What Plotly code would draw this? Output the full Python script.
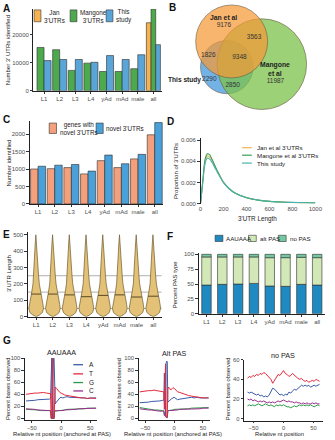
import numpy as np
import plotly.graph_objects as go

W, H = 335, 440
FONT = "Liberation Sans, Arial, Helvetica, sans-serif"
INK = "#222222"
TICK_INK = "#4d4d4d"

categories = ["L1", "L2", "L3", "L4", "yAd", "mAd", "male", "all"]

# A: number of 3'UTRs identified per stage
jan_utrs = [None, None, None, None, None, None, None, 24350]
mangone_utrs = [15500, 14700, 7300, 9900, 6900, 6900, 7900, 29300]
this_study_utrs = [10800, 11200, 11200, 10200, 12600, 11200, 12900, 16500]

# B: overlap between the three 3'UTR sets
venn_regions = ["Jan only", "Jan & Mangone", "Jan & this study", "all three",
                "Mangone only", "this study only", "this study & Mangone"]
venn_counts = [9176, 3563, 1826, 9348, 11987, 2290, 2850]

# C: novel 3'UTRs
genes_with_novel = [1000, 1010, 1040, 860, 1240, 1040, 1290, 1980]
novel_utrs = [1080, 1110, 1130, 940, 1400, 1150, 1420, 2330]

# D: 3'UTR length distributions
utr_length_grid = [0, 20, 40, 60, 80, 100, 125, 150, 200, 250, 300, 400, 500, 600, 700, 800, 900, 1000]
jan_density = [0, 0.0021, 0.0040, 0.0045, 0.0044, 0.0041, 0.0035, 0.0030, 0.0020, 0.0014, 0.0010,
               0.00056, 0.00033, 0.00021, 0.00015, 0.0001, 0.00008, 0.00006]
mangone_density = [0, 0.0022, 0.0042, 0.0047, 0.0046, 0.0042, 0.0036, 0.0030, 0.0020, 0.0014, 0.0010,
                   0.00055, 0.00032, 0.0002, 0.00014, 0.0001, 0.00007, 0.00005]
this_study_density = [0, 0.0020, 0.0038, 0.0043, 0.0042, 0.0039, 0.0034, 0.0029, 0.0020, 0.0014, 0.0010,
                      0.00057, 0.00034, 0.00022, 0.00015, 0.00011, 0.00008, 0.00006]

# E: violin profile of 3'UTR length (relative width) and medians per stage
violin_length = [0, 10, 25, 50, 75, 100, 125, 150, 200, 250, 300, 350, 400, 450, 500]
violin_width = [0.0, 0.45, 0.85, 1.0, 0.93, 0.82, 0.7, 0.6, 0.43, 0.33, 0.26, 0.21, 0.17, 0.12, 0.04]
median_length = [138, 138, 133, 122, 130, 133, 120, 125]
guide_lengths = [50, 150, 250]

# F: PAS type composition (percent)
aauaaa_pct = [48.3, 49.4, 50.0, 51.0, 46.7, 46.1, 49.4, 48.3]
alt_pas_pct = [47.3, 46.2, 45.6, 44.6, 47.7, 48.3, 45.6, 46.1]
no_pas_pct = [4.4, 4.4, 4.4, 4.4, 5.6, 5.6, 5.0, 5.6]

# G: base composition around the PAS
pas_pos = [-60, -55, -50, -45, -40, -35, -30, -25, -20, -18, -17, -16, -15, -14, -13, -12,
           -11, -10, -8, -6, -4, -2, 0, 3, 6, 10, 15, 20, 25, 30, 35, 40, 45, 50, 55, 60]
aauaaa_A = [29, 29, 30, 30, 31, 31, 31, 32, 32, 33, 100, 100, 0, 100, 100, 100,
            26, 24, 27, 30, 32, 34, 35, 34, 35, 36, 35, 35, 34, 34, 34, 34, 33, 34, 34, 34]
aauaaa_T = [40, 41, 41, 42, 42, 43, 43, 42, 42, 41, 0, 0, 100, 0, 0, 0,
            46, 52, 50, 47, 45, 43, 42, 40, 39, 38, 37, 36, 35, 35, 34, 34, 33, 34, 33, 33]
aauaaa_G = [15, 15, 14, 14, 14, 13, 13, 13, 13, 13, 0, 0, 0, 0, 0, 0,
            13, 12, 12, 13, 13, 13, 13, 14, 14, 15, 15, 15, 16, 16, 16, 16, 17, 17, 17, 17]
aauaaa_C = [16, 16, 15, 15, 14, 14, 13, 13, 13, 12, 0, 0, 0, 0, 0, 0,
            12, 13, 13, 13, 12, 13, 13, 13, 14, 14, 15, 15, 15, 16, 16, 16, 16, 17, 17, 17]

altpas_A = [26, 26, 27, 27, 28, 28, 29, 29, 30, 30, 75, 45, 5, 92, 95, 94,
            27, 28, 29, 31, 33, 34, 35, 33, 31, 32, 33, 34, 34, 35, 34, 35, 34, 34, 34, 34]
altpas_T = [44, 45, 45, 46, 46, 47, 46, 45, 45, 44, 15, 40, 90, 4, 3, 3,
            48, 52, 50, 47, 49, 51, 50, 46, 44, 43, 41, 40, 38, 37, 36, 35, 35, 34, 34, 34]
altpas_G = [18, 17, 16, 15, 15, 14, 14, 13, 13, 13, 5, 10, 2, 2, 1, 2,
            13, 13, 13, 14, 14, 14, 15, 15, 15, 15, 16, 16, 16, 17, 17, 17, 17, 18, 18, 18]
altpas_C = [16, 15, 15, 14, 14, 13, 13, 12, 12, 12, 5, 5, 3, 2, 1, 1,
            12, 13, 13, 13, 13, 14, 14, 14, 14, 15, 15, 15, 16, 16, 16, 16, 16, 17, 17, 17]

nopas_pos = list(range(-60, 61, 3))
nopas_T = [41, 43, 42, 44, 43, 45, 44, 46, 45, 47, 46, 44, 42, 40, 36, 39, 43, 45, 44, 47,
           49, 46, 45, 43, 44, 46, 44, 42, 41, 40, 41, 39, 38, 39, 37, 38, 39, 38, 40, 39, 38]
nopas_A = [27, 26, 27, 26, 25, 24, 25, 23, 24, 22, 23, 22, 24, 27, 31, 30, 28, 26, 24, 25,
           23, 25, 24, 27, 26, 28, 30, 29, 31, 33, 34, 33, 34, 33, 34, 32, 33, 34, 33, 34, 35]
nopas_C = [20, 19, 20, 18, 19, 18, 17, 18, 17, 18, 17, 16, 17, 16, 17, 16, 17, 18, 17, 18,
           19, 18, 17, 18, 17, 17, 16, 17, 16, 16, 15, 16, 15, 16, 15, 15, 16, 15, 16, 15, 15]
nopas_G = [13, 14, 13, 14, 13, 14, 15, 14, 13, 14, 15, 14, 13, 14, 13, 12, 14, 13, 14, 13,
           14, 13, 12, 12, 11, 12, 13, 12, 13, 14, 13, 14, 13, 14, 13, 14, 13, 12, 13, 14, 13]

ORANGE = "#f5b24f"
GREEN = "#4caa4c"
BLUE = "#5aa5d8"
SALMON = "#f4a07c"
C_BLUE = "#4aa0d9"
D_COLORS = {"jan": "#f2b455", "mangone": "#3a9f58", "this": "#45b3ad"}
VIOLIN_FILL = "#e3c277"
VIOLIN_LINE = "#6e5a2c"
F_COLORS = ["#1f89c1", "#d2e9b7", "#76c8a3"]
BASE_COLORS = {"A": "#3a5ca8", "T": "#e3293c", "G": "#2b9a48", "C": "#9c2f8d"}


def px_x(x):
    return x / W


def px_y(y):
    return 1 - y / H


def dom_x(x0, x1):
    return [x0 / W, x1 / W]


def dom_y(top, bottom):
    return [1 - bottom / H, 1 - top / H]


def axis(**kw):
    d = dict(showline=True, linecolor=INK, linewidth=0.8, ticks="outside", ticklen=2.5,
             tickwidth=0.7, tickcolor="#333333", showgrid=False, zeroline=False,
             tickfont=dict(family=FONT, size=6, color=TICK_INK), fixedrange=True)
    d.update(kw)
    return d


def note(text, x, y, size=6.5, color=INK, xanchor="center", yanchor="middle", angle=0,
         xref="paper", yref="paper"):
    if xref == "paper":
        x = px_x(x)
    if yref == "paper":
        y = px_y(y)
    return dict(text=text, x=x, y=y, xref=xref, yref=yref, showarrow=False,
                font=dict(family=FONT, size=size, color=color), xanchor=xanchor,
                yanchor=yanchor, textangle=angle, borderpad=0)


def rect_px(x0, y0, x1, y1, fill, line="#333333"):
    return dict(type="rect", xref="paper", yref="paper", x0=px_x(x0), x1=px_x(x1),
                y0=px_y(y1), y1=px_y(y0), fillcolor=fill, line=dict(color=line, width=0.6))


def seg_px(x0, y, x1, color, width=1.2):
    return dict(type="line", xref="paper", yref="paper", x0=px_x(x0), x1=px_x(x1),
                y0=px_y(y), y1=px_y(y), line=dict(color=color, width=width))


fig = go.Figure()
shapes = []
annotations = []

# ---------------- A ----------------
bar_line = dict(color="#2b2b2b", width=0.6)
fig.add_trace(go.Bar(x=categories, y=jan_utrs, offset=[-0.45] * 8, width=[0.3] * 8,
                     marker=dict(color=ORANGE, line=bar_line), xaxis="x", yaxis="y"))
fig.add_trace(go.Bar(x=categories, y=mangone_utrs, offset=[-0.45] * 7 + [-0.15],
                     width=[0.45] * 7 + [0.3], marker=dict(color=GREEN, line=bar_line),
                     xaxis="x", yaxis="y"))
fig.add_trace(go.Bar(x=categories, y=this_study_utrs, offset=[0.0] * 7 + [0.15],
                     width=[0.45] * 7 + [0.3], marker=dict(color=BLUE, line=bar_line),
                     xaxis="x", yaxis="y"))
for (x0, col, label) in [(33, ORANGE, "Jan<br>3'UTRs"), (70, GREEN, "Mangone<br>3'UTRs"),
                         (107, BLUE, "This<br>study")]:
    shapes.append(rect_px(x0, 7, x0 + 7, 19, col))
    annotations.append(note(label, x0 + 9, 13.5, size=6.3, xanchor="left"))
annotations.append(note("Number 3' UTRs identified", 7, 48, size=6, angle=-90))

# ---------------- B ----------------
circles = [
    (231, 65, 27, "rgba(74,156,222,0.78)"),
    (267, 62, 46, "rgba(124,194,74,0.75)"),
    (236, 39, 37, "rgba(245,152,52,0.72)"),
]
for cx, cy, r, col in circles:
    shapes.append(dict(type="circle", xref="x2", yref="y2", x0=cx - r, x1=cx + r,
                       y0=cy - r, y1=cy + r, fillcolor=col, layer="below",
                       line=dict(color="#6b5b45", width=0.6)))
venn_x = [228, 259, 212, 244, 281, 213, 237]
venn_y = [23, 35, 53, 55, 79, 77, 84]
fig.add_trace(go.Scatter(x=venn_x, y=venn_y, text=[str(v) for v in venn_counts],
                         mode="text", textfont=dict(family=FONT, size=6.5, color="#333333"),
                         xaxis="x2", yaxis="y2", hoverinfo="skip"))
annotations.append(note("<b>Jan et al</b>", 228, 15, size=6.8, xref="x2", yref="y2"))
annotations.append(note("<b>Mangone<br>et al</b>", 281, 67, size=6.8, xref="x2", yref="y2"))
annotations.append(note("<b>This study</b>", 206, 78.5, size=6.6, xanchor="right",
                        xref="x2", yref="y2"))

# ---------------- C ----------------
fig.add_trace(go.Bar(x=categories, y=genes_with_novel, offset=-0.45, width=0.45,
                     marker=dict(color=SALMON, line=bar_line), xaxis="x3", yaxis="y3"))
fig.add_trace(go.Bar(x=categories, y=novel_utrs, offset=0.0, width=0.45,
                     marker=dict(color=C_BLUE, line=bar_line), xaxis="x3", yaxis="y3"))
shapes.append(rect_px(48.5, 121.7, 56, 132.3, SALMON))
annotations.append(note("genes with<br>novel 3'UTRs", 58.5, 127, size=6.3, xanchor="left"))
shapes.append(rect_px(96.7, 121.7, 104, 132.3, C_BLUE))
annotations.append(note("novel 3'UTRs", 106, 127, size=6.3, xanchor="left"))
annotations.append(note("Number identified", 7, 162, size=6, angle=-90))

# ---------------- D ----------------
for key, dens in [("jan", jan_density), ("mangone", mangone_density), ("this", this_study_density)]:
    fig.add_trace(go.Scatter(x=utr_length_grid, y=dens, mode="lines",
                             line=dict(color=D_COLORS[key], width=1.1, shape="spline",
                                       smoothing=0.8),
                             xaxis="x4", yaxis="y4", hoverinfo="skip"))
for y, key, name in [(146.7, "jan", "Jan et al 3'UTRs"), (154.3, "mangone", "Mangone et al 3'UTRs"),
                     (162.3, "this", "This study")]:
    shapes.append(seg_px(246.7, y, 256.7, D_COLORS[key]))
    annotations.append(note(name, 261.5, y, size=6.2, xanchor="left"))
annotations.append(note("Proportion of 3'UTRs", 178, 170, size=6, angle=-90))
annotations.append(note("3'UTR Length", 263, 218.5, size=6.3))

# ---------------- E ----------------
for gl in guide_lengths:
    shapes.append(dict(type="line", xref="x5 domain", yref="y5", x0=0, x1=1, y0=gl, y1=gl,
                       line=dict(color="#9a9a9a", width=0.8), layer="below"))
half = 0.44
vl = np.array(violin_length, dtype=float)
vw = np.array(violin_width, dtype=float) * half
for i, med in enumerate(median_length):
    xs = np.concatenate([i + vw, (i - vw)[::-1]])
    ys = np.concatenate([vl, vl[::-1]])
    fig.add_trace(go.Scatter(x=xs, y=ys, mode="lines", fill="toself", fillcolor=VIOLIN_FILL,
                             line=dict(color=VIOLIN_LINE, width=0.7), xaxis="x5", yaxis="y5",
                             hoverinfo="skip"))
    mw = float(np.interp(med, vl, vw))
    fig.add_trace(go.Scatter(x=[i - mw, i + mw], y=[med, med], mode="lines",
                             line=dict(color="#4a3b18", width=0.9), xaxis="x5", yaxis="y5",
                             hoverinfo="skip"))
annotations.append(note("3'UTR Length", 7, 274, size=6, angle=-90))

# ---------------- F ----------------
aau = np.array(aauaaa_pct)
alt = np.array(alt_pas_pct)
fig.add_trace(go.Bar(x=categories, y=aauaaa_pct, offset=-0.3, width=0.6,
                     marker=dict(color=F_COLORS[0], line=bar_line), xaxis="x6", yaxis="y6"))
fig.add_trace(go.Bar(x=categories, y=alt_pas_pct, base=aau, offset=-0.3, width=0.6,
                     marker=dict(color=F_COLORS[1], line=bar_line), xaxis="x6", yaxis="y6"))
fig.add_trace(go.Bar(x=categories, y=no_pas_pct, base=aau + alt, offset=-0.3, width=0.6,
                     marker=dict(color=F_COLORS[2], line=bar_line), xaxis="x6", yaxis="y6"))
for x0, col, label in [(219, F_COLORS[0], "AAUAAA"), (253.3, F_COLORS[1], "alt PAS"),
                       (284, F_COLORS[2], "no PAS")]:
    shapes.append(rect_px(x0, 235.5, x0 + 8, 241.8, col))
    annotations.append(note(label, x0 + 10.5, 238.7, size=6.2, xanchor="left"))
annotations.append(note("Percent PAS type", 178, 285, size=6, angle=-90))

# ---------------- G ----------------
g_sets = [
    ("x7", "y7", pas_pos, {"A": aauaaa_A, "T": aauaaa_T, "G": aauaaa_G, "C": aauaaa_C}),
    ("x8", "y8", pas_pos, {"A": altpas_A, "T": altpas_T, "G": altpas_G, "C": altpas_C}),
    ("x9", "y9", nopas_pos, {"A": nopas_A, "T": nopas_T, "G": nopas_G, "C": nopas_C}),
]
for xa, ya, pos, series in g_sets:
    for base in ["G", "C", "A", "T"]:
        fig.add_trace(go.Scatter(x=pos, y=series[base], mode="lines",
                                 line=dict(color=BASE_COLORS[base], width=1.0),
                                 xaxis=xa, yaxis=ya, hoverinfo="skip"))
for y, base in [(366.7, "A"), (376, "T"), (384.8, "G"), (393.3, "C")]:
    shapes.append(seg_px(73.3, y, 83.3, BASE_COLORS[base], width=1.3))
    annotations.append(note(base, 88.5, y, size=6.5, xanchor="left"))
annotations.append(note("AAUAAA", 61, 354, size=7.2))
annotations.append(note("Alt PAS", 177, 355, size=7.2))
annotations.append(note("no PAS", 289, 357, size=7.2))
for x in [5.5, 120, 231.7]:
    annotations.append(note("Percent bases observed", x, 391, size=5.8, angle=-90))
annotations.append(note("Relative nt position (anchored at PAS)", 62, 436.5, size=5.8))
annotations.append(note("Relative nt position (anchored at PAS)", 176, 436.5, size=5.8))
annotations.append(note("Relative nt position", 285, 436.5, size=5.8))

# panel letters
for letter, x, y in [("A", 5, 6), ("B", 175, 5), ("C", 5, 118), ("D", 173, 120),
                     ("E", 5, 235), ("F", 173, 237), ("G", 5, 342)]:
    annotations.append(note(f"<b>{letter}</b>", x, y, size=10, color="#111111"))

hidden = dict(visible=False, fixedrange=True)
g_tickfont = dict(family=FONT, size=5.8, color=TICK_INK)
fig.update_layout(
    width=W, height=H, margin=dict(l=0, r=0, t=0, b=0),
    paper_bgcolor="white", plot_bgcolor="white", showlegend=False, barmode="overlay",
    font=dict(family=FONT, size=6, color=INK),
    xaxis=axis(domain=dom_x(32.3, 164.4), range=[-0.68, 7.55], anchor="y", ticklen=2),
    yaxis=axis(domain=dom_y(6, 89), range=[0, 29300], tickvals=[0, 10000, 20000],
               tickformat="d", anchor="x"),
    xaxis2=dict(hidden, domain=dom_x(165, 335), range=[165, 335], anchor="y2"),
    yaxis2=dict(hidden, domain=dom_y(0, 112), range=[112, 0], anchor="x2"),
    xaxis3=axis(domain=dom_x(28.5, 165.5), range=[-0.5, 7.5], anchor="y3", ticklen=2),
    yaxis3=axis(domain=dom_y(120, 203.7), range=[0, 2365], tickvals=[0, 500, 1000, 1500, 2000],
                anchor="x3"),
    xaxis4=axis(domain=dom_x(204, 322), range=[0, 1000], tickvals=[0, 200, 400, 600, 800, 1000],
                showline=False, ticks="", anchor="y4"),
    yaxis4=axis(domain=dom_y(136.9, 203.3), range=[0, 0.0062],
                tickvals=[0, 0.002, 0.004, 0.006], tickformat=".3f", anchor="x4"),
    xaxis5=axis(domain=dom_x(26.5, 164), range=[-0.5, 7.5], tickvals=list(range(8)),
                ticktext=categories, anchor="y5", ticklen=2),
    yaxis5=axis(domain=dom_y(231.7, 318), range=[0, 520], tickvals=[0, 100, 200, 300, 400, 500],
                anchor="x5"),
    xaxis6=axis(domain=dom_x(202, 332), range=[-0.5, 7.5], anchor="y6", ticklen=2),
    yaxis6=axis(domain=dom_y(253, 315), range=[0, 103], tickvals=[0, 25, 50, 75, 100],
                ticksuffix="%", anchor="x6"),
    xaxis7=axis(domain=dom_x(23.5, 97.9), range=[-62, 62], tickvals=[-50, 0, 50], anchor="y7",
                ticklen=1.5, tickfont=g_tickfont),
    yaxis7=axis(domain=dom_y(360, 423), range=[-3, 100], tickvals=[0, 20, 40, 60, 80, 100],
                anchor="x7", tickfont=g_tickfont),
    xaxis8=axis(domain=dom_x(140.3, 213.5), range=[-62, 62], tickvals=[-50, 0, 50], anchor="y8",
                ticklen=1.5, tickfont=g_tickfont),
    yaxis8=axis(domain=dom_y(360, 423), range=[-3, 100], tickvals=[0, 20, 40, 60, 80, 100],
                anchor="x8", tickfont=g_tickfont),
    xaxis9=axis(domain=dom_x(248.6, 330), range=[-66, 66], tickvals=[-50, 0, 50], anchor="y9",
                ticklen=1.5, tickfont=g_tickfont),
    yaxis9=axis(domain=dom_y(361.7, 423.3), range=[-2, 60], tickvals=[0, 20, 40, 60],
                anchor="x9", tickfont=g_tickfont),
    shapes=shapes,
    annotations=annotations,
)

fig.write_html("out.html")
